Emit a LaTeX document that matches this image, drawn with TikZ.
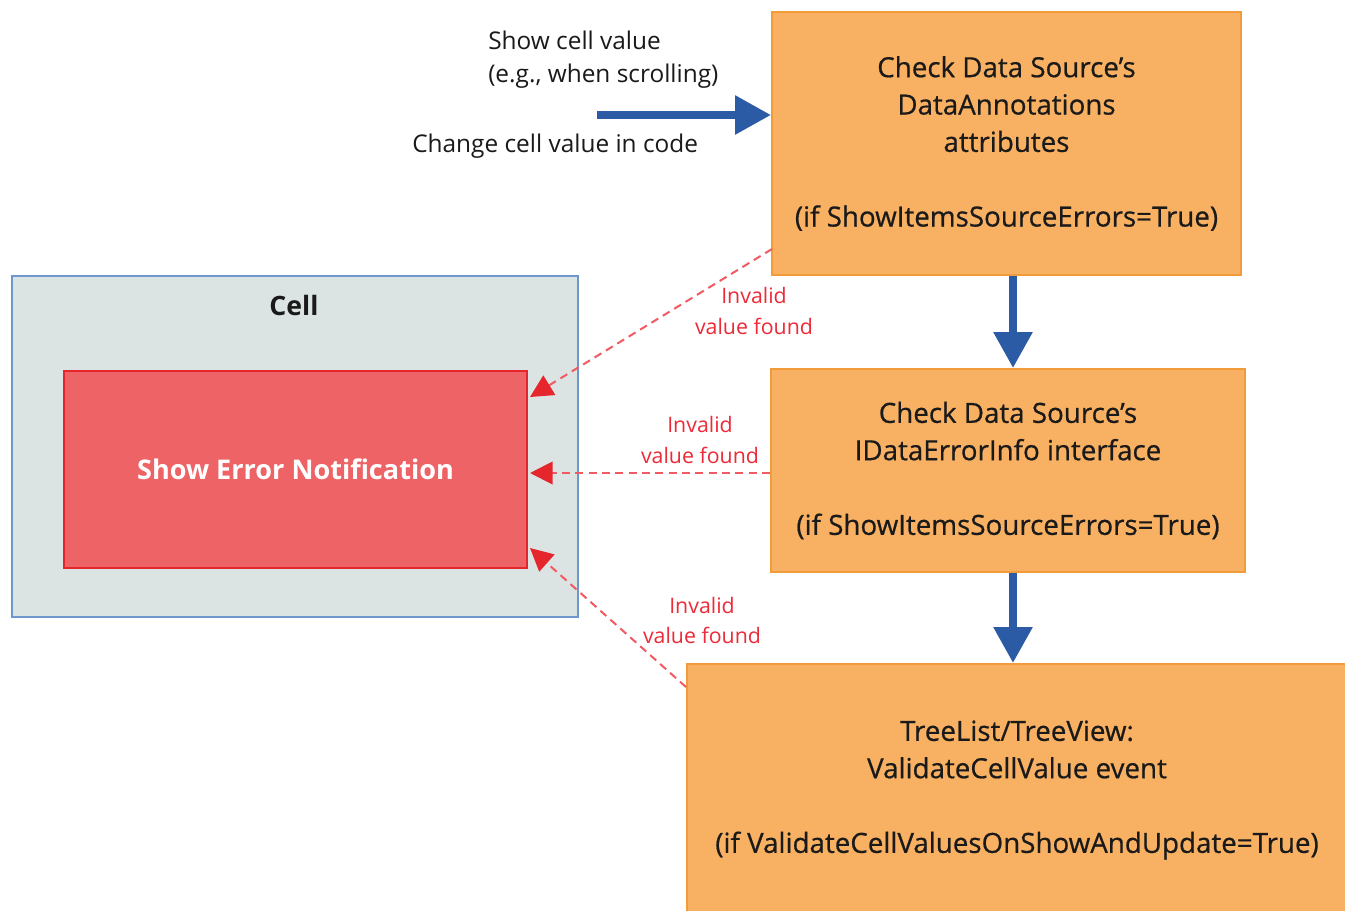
\documentclass[tikz,border=0pt]{standalone}
\usepackage{fontspec}
\setmainfont{Open Sans}
\newfontfamily\heavyfont[FakeBold=0.6]{Open Sans}
\usetikzlibrary{arrows.meta,calc}

\definecolor{boxfill}{HTML}{F8B062}
\definecolor{boxline}{HTML}{F29B3A}
\definecolor{flowblue}{HTML}{2C5BA6}
\definecolor{cellfill}{HTML}{DCE4E3}
\definecolor{cellline}{HTML}{6E97CC}
\definecolor{errfill}{HTML}{EE6466}
\definecolor{errline}{HTML}{E6262D}
\definecolor{warnred}{HTML}{EC2A38}
\definecolor{dashred}{HTML}{F15A62}
\definecolor{ink}{HTML}{1A1A1A}

\tikzset{
  stepbox/.style={draw=boxline, fill=boxfill, line width=1.5pt, align=center,
    text=ink, font=\heavyfont\fontsize{20.8}{28}\selectfont, inner sep=0pt},
  flow/.style={draw=flowblue, line width=6pt,
    -{Triangle[length=27pt,width=28pt]}},
  invalid/.style={draw=dashred, line width=1.5pt, dash pattern=on 6pt off 4pt,
    -{Triangle[length=17pt,width=17pt,color=errline,fill=errline]}},
  hint/.style={text=warnred, align=center, font=\fontsize{16}{23}\selectfont, inner sep=0pt},
  caption/.style={align=left, text=ink, font=\fontsize{18.3}{24.75}\selectfont, inner sep=0pt, anchor=west}
}

\begin{document}
\begin{tikzpicture}[x=0.75pt,y=-0.75pt]
  \clip (0,0) rectangle (1345,910);
  \fill[white] (0,0) rectangle (1345,910);

  % cell with its error notification
  \node[draw=cellline, fill=cellfill, line width=1.5pt, minimum width=566*0.75pt,
        minimum height=341*0.75pt, inner sep=0pt] (cell) at (295,446.5) {};
  \node[text=ink, font=\fontsize{20}{24}\selectfont\bfseries] (celltitle) at (294,305) {Cell};
  \node[draw=errline, fill=errfill, line width=1.5pt, minimum width=463*0.75pt,
        minimum height=197*0.75pt, inner sep=0pt, text=white,
        font=\fontsize{20.3}{24}\selectfont\bfseries] (err) at (295.5,469.5) {Show Error Notification};

  % validation steps
  \node[stepbox, minimum width=469*0.75pt, minimum height=263*0.75pt] (annot) at (1006.5,143.5)
    {Check Data Source’s\\DataAnnotations\\attributes\\[28pt](if ShowItemsSourceErrors=True)};
  \node[stepbox, minimum width=474*0.75pt, minimum height=203*0.75pt] (info) at (1008,470.5)
    {Check Data Source’s\\IDataErrorInfo interface\\[28pt](if ShowItemsSourceErrors=True)};
  \node[stepbox, minimum width=660*0.75pt, minimum height=252*0.75pt] (event) at (1017,790)
    {TreeList/TreeView:\\ValidateCellValue event\\[28pt](if ValidateCellValuesOnShowAndUpdate=True)};

  % triggers
  \node[caption] (show) at (488,59.5) {Show cell value\\(e.g., when scrolling)};
  \node[caption] (change) at (412,146.5) {Change cell value in code};
  \coordinate (start) at (597,115);
  \coordinate (ax) at (1013,0);

  \draw[flow] (start) -- (start -| annot.west);
  \draw[flow] (ax |- annot.south) -- (ax |- info.north);
  \draw[flow] (ax |- info.south) -- (ax |- event.north);

  % error reporting
  \coordinate (mid) at (0,473);
  \draw[invalid] ($(annot.south west)+(1,-27)$) -- ($(err.north east)+(2,27)$);
  \draw[invalid] (info.west |- mid) -- ($(err.east |- mid)+(2,0)$);
  \draw[invalid] ($(event.north west)+(0,24)$) -- ($(err.south east)+(2,-21)$);

  \node[hint] (h1) at (754,311) {Invalid\\value found};
  \node[hint] (h2) at (700,440) {Invalid\\value found};
  \node[hint] (h3) at (702,620.5) {Invalid\\value found};
\end{tikzpicture}
\end{document}
